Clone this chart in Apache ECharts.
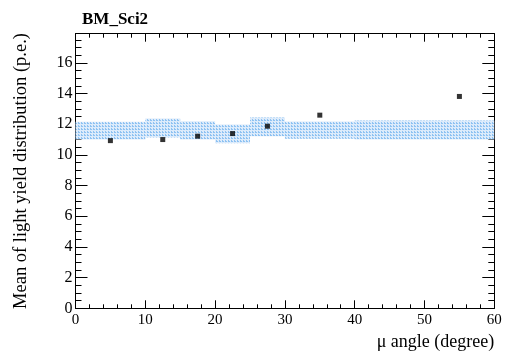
<!DOCTYPE html>
<html><head><meta charset="utf-8">
<script src="https://cdn.jsdelivr.net/npm/echarts@6/dist/echarts.min.js"></script>
<style>html,body{margin:0;padding:0;background:#fff}#c{width:507px;height:358px}</style>
</head><body><div id="c"></div>
<script>
// Data
const binLow   = [0, 10, 15, 20, 25, 30, 40];
const binHigh  = [10, 15, 20, 25, 30, 40, 60];
const bandLow  = [11.0, 11.13, 11.0, 10.76, 11.22, 11.05, 11.0];
const bandHigh = [12.16, 12.37, 12.2, 11.98, 12.44, 12.18, 12.24];
const pointX   = [5, 12.5, 17.5, 22.5, 27.5, 35, 55];
const pointY   = [10.93, 11.0, 11.22, 11.39, 11.87, 12.59, 13.81];
const title    = 'BM_Sci2';
const xTitle   = 'μ angle (degree)';
const yTitle   = 'Mean of light yield distribution (p.e.)';

// hatch pattern
const pc = document.createElement('canvas');
pc.width = 3; pc.height = 3;
const g = pc.getContext('2d');
g.fillStyle = '#dcebfb'; g.fillRect(0,0,3,3);
g.fillStyle = '#8ec2f2'; g.fillRect(0,0,2,1); g.fillRect(0,2,1,1);
const pattern = {image: pc, repeat: 'repeat'};

const font = 'Liberation Serif';
const bandData = binLow.map((b,i)=>[b, binHigh[i], bandLow[i], bandHigh[i]]);
const ptData = pointX.map((x,i)=>[x, pointY[i]]);

const chart = echarts.init(document.getElementById('c'), null, {renderer:'canvas'});
const blk = {color:'#000', width:1};
chart.setOption({
  animation:false,
  backgroundColor:'#fff',
  title:{text:title, left:77, top:6, textStyle:{fontFamily:font, fontWeight:'bold', fontSize:17, color:'#000'}},
  grid:{left:75.5, right:12.7, top:33.7, bottom:49.7, containLabel:false},
  xAxis:[{
    type:'value', min:0, max:60, interval:10, position:'bottom',
    axisLine:{onZero:false, lineStyle:blk}, splitLine:{show:false},
    axisTick:{inside:true, length:8, lineStyle:blk},
    minorTick:{show:true, splitNumber:5, length:4, lineStyle:blk},
    axisLabel:{fontFamily:font, fontSize:15, color:'#000', margin:4},
    name:xTitle, nameLocation:'end', nameGap:0,
    nameTextStyle:{fontFamily:font, fontSize:18, color:'#000', align:'right', verticalAlign:'top', padding:[25,0,0,0]}
  },{
    type:'value', min:0, max:60, interval:10, position:'top',
    axisLine:{onZero:false, lineStyle:blk}, splitLine:{show:false},
    axisTick:{inside:true, length:8, lineStyle:blk},
    minorTick:{show:true, splitNumber:5, length:4, lineStyle:blk},
    axisLabel:{show:false}
  }],
  yAxis:[{
    type:'value', min:0, max:17.9, interval:2, position:'left',
    axisLine:{onZero:false, lineStyle:blk}, splitLine:{show:false},
    axisTick:{inside:true, length:12, lineStyle:blk},
    minorTick:{show:true, splitNumber:4, length:6, lineStyle:blk},
    axisLabel:{fontFamily:font, fontSize:16, color:'#000', margin:3, showMaxLabel:false},
    name:yTitle, nameLocation:'middle', nameGap:45, nameRotate:90,
    nameTextStyle:{fontFamily:font, fontSize:18.5, color:'#000'}
  },{
    type:'value', min:0, max:17.9, interval:2, position:'right',
    axisLine:{onZero:false, lineStyle:blk}, splitLine:{show:false},
    axisTick:{inside:true, length:12, lineStyle:blk},
    minorTick:{show:true, splitNumber:4, length:6, lineStyle:blk},
    axisLabel:{show:false}
  }],
  series:[{
    type:'custom', xAxisIndex:0, yAxisIndex:0, data:bandData,
    encode:{x:[0,1], y:[2,3]},
    renderItem:function(params, api){
      const p0 = api.coord([api.value(0), api.value(3)]);
      const p1 = api.coord([api.value(1), api.value(2)]);
      return {type:'rect', shape:{x:p0[0], y:p0[1], width:p1[0]-p0[0], height:p1[1]-p0[1]}, style:{fill:pattern}};
    },
    z:1
  },{
    type:'scatter', xAxisIndex:0, yAxisIndex:0, data:ptData,
    symbol:'rect', symbolSize:5, itemStyle:{color:'#000'}, z:3
  }]
});
</script></body></html>
